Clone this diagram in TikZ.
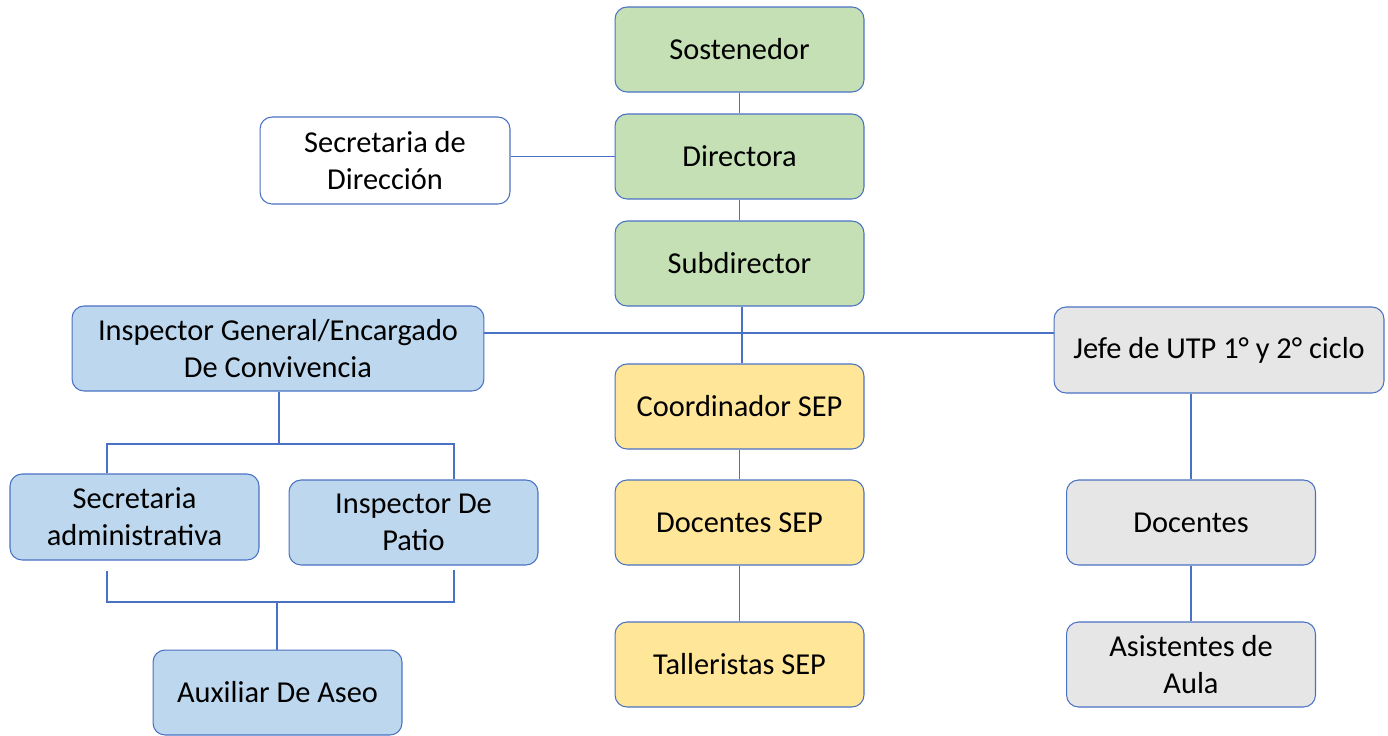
\documentclass[tikz,border=0pt]{standalone}
\usepackage{fontspec}
\setmainfont{Carlito}
\usepackage{xcolor}
\definecolor{colgreen}{RGB}{197, 224, 180}
\definecolor{colblue}{RGB}{189, 215, 238}
\definecolor{colyellow}{RGB}{255, 230, 153}
\definecolor{colgray}{RGB}{231, 230, 230}
\definecolor{colline}{RGB}{74, 114, 196}
\usepackage{tikz}

\tikzset{
	box/.style={draw=colline, line width=0.6pt, rounded corners=0.24cm, align=center, inner sep=0pt,
		minimum width=4.98cm, minimum height=1.7cm, font=\fontsize{17.3}{21}\selectfont},
	link/.style={colline, line width=0.6pt}
}

\begin{document}
\begin{tikzpicture}[x=0.02cm, y=-0.02cm]
	\useasboundingbox (0,0) rectangle (1388,735);
	% direccion
	\node[box, fill=colgreen] (sost) at (739.5,49.5) {Sostenedor};
	\node[box, fill=colgreen] (dir) at (739.5,156.5) {Directora};
	\node[box, fill=colgreen] (sub) at (739.5,263.5) {Subdirector};
	\node[box, fill=white, minimum width=5cm, minimum height=1.74cm] (secdir) at (385,160.5) {Secretaria de\\Direcci\'on};
	% inspectoria
	\node[box, fill=colblue, minimum width=8.24cm] (insp) at (278,348.5) {Inspector General/Encargado\\De Convivencia};
	\node[box, fill=colblue, minimum height=1.72cm] (secadm) at (134.5,517) {Secretaria\\administrativa};
	\node[box, fill=colblue] (ipatio) at (413.5,522.5) {Inspector De\\Patio};
	\node[box, fill=colblue] (aux) at (277.5,692.5) {Auxiliar De Aseo};
	% SEP
	\node[box, fill=colyellow] (coord) at (739.5,406.5) {Coordinador SEP};
	\node[box, fill=colyellow] (docsep) at (739.5,522.5) {Docentes SEP};
	\node[box, fill=colyellow] (tall) at (739.5,664.5) {Talleristas SEP};
	% UTP
	\node[box, fill=colgray, minimum width=6.6cm, minimum height=1.72cm] (jefe) at (1219,350) {Jefe de UTP 1° y 2° ciclo};
	\node[box, fill=colgray] (doc) at (1191,522.5) {Docentes};
	\node[box, fill=colgray] (asis) at (1191,664.5) {Asistentes de\\Aula};

	\coordinate (hbar) at (742,333);
	\coordinate (ibar) at (279,444);
	\coordinate (abar) at (277,602);

	\draw[link] (sost) -- (dir);
	\draw[link] (dir) -- (sub);
	\draw[link] (secdir.east |- dir) -- (dir);
	\draw[link] (sub.south -| hbar) -- (coord.north -| hbar);
	\draw[link] (insp.east |- hbar) -- (jefe.west |- hbar);
	\draw[link] (coord) -- (docsep);
	\draw[link] (docsep) -- (tall);
	\draw[link] (insp.south -| ibar) -- (ibar);
	\draw[link] ([xshift=-0.55cm]secadm.north) |- (ibar) -| ([xshift=0.81cm]ipatio.north);
	\draw[link] ([xshift=-0.55cm,yshift=-0.2cm]secadm.south) |- (abar) -| ([xshift=0.81cm,yshift=-0.08cm]ipatio.south);
	\draw[link] (abar) -- (aux.north -| abar);
	\draw[link] (jefe.south -| doc) -- (doc);
	\draw[link] (doc) -- (asis);
\end{tikzpicture}
\end{document}
